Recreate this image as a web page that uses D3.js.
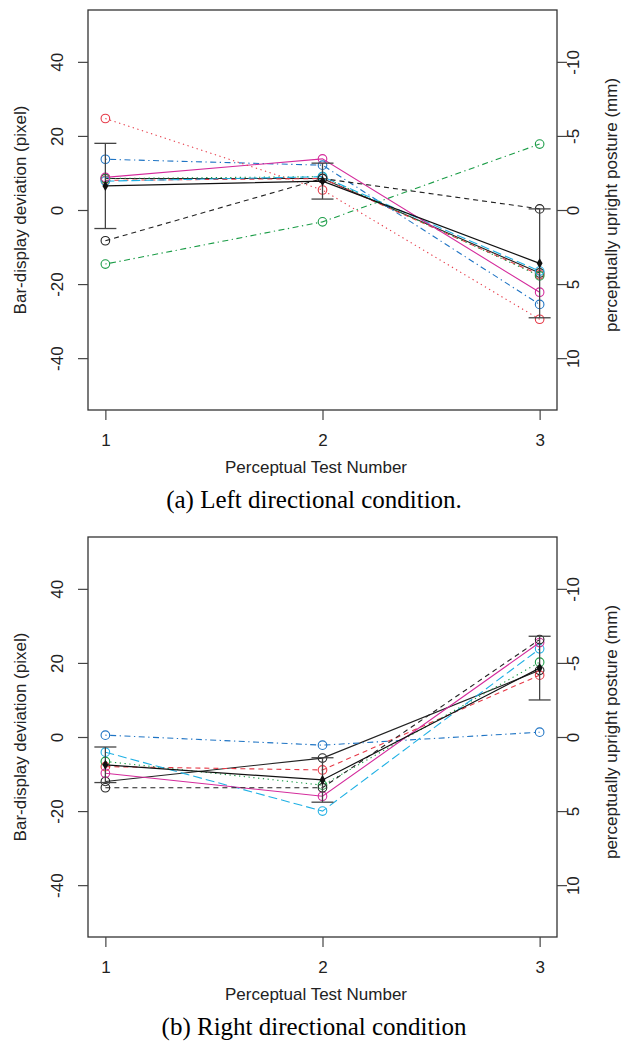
<!DOCTYPE html>
<html lang="en">
  <head>
    <meta charset="utf-8">
    <script src="https://cdn.jsdelivr.net/npm/d3@7"></script>
    <style>
      body { margin: 0; background: #fff; }
      svg text { font-family: "Liberation Sans", Arial, sans-serif; fill: #222; }
      svg text.caption { font-family: "Liberation Serif", "Times New Roman", serif; fill: #000; }
    </style>
  </head>
  <body>
    <svg id="chart" width="629" height="1044"></svg>
    <script>

      // test numbers on the x axis
      var tests = [1, 2, 3];
      var leftTicks = [-40, -20, 0, 20, 40];
      var rightTicks = [-10, -5, 0, 5, 10];

      // one style per subject line (R matplot-like cycle)
      var subjectColors = ["#222222", "#e63a48", "#1a9c46", "#1f74c4", "#1fb0e4", "#d42b9c", "#222222", "#e63a48", "#1a9c46"];
      var subjectDash = ["", "5,4", "1.3,3.5", "1.3,3.5,6,3.5", "9,4", "", "5,4", "1.3,3.5", "1.3,3.5,6,3.5"];

      // (a) left directional condition, bar-display deviation in pixels
      var leftSubjects = [
        [8.5, 8.5, -17.0],
        [8.0, 8.5, -17.5],
        [8.5, 9.0, -17.8],
        [13.7, 12.1, -25.5],
        [7.8, 9.0, -16.5],
        [8.8, 13.8, -22.2],
        [-8.3, 8.5, 0.3],
        [24.7, 5.4, -29.5],
        [-14.6, -3.2, 17.8]
      ];
      var leftMean = [6.5, 7.8, -14.4];
      var leftSd = [11.5, 4.85, 14.7];

      // (b) right directional condition
      var rightSubjects = [
        [-12.0, -5.7, 18.0],
        [-8.0, -8.9, 16.7],
        [-6.6, -13.0, 20.2],
        [0.5, -2.2, 1.3],
        [-4.1, -20.0, 23.8],
        [-9.8, -16.0, 25.5],
        [-13.7, -13.7, 26.3]
      ];
      var rightMean = [-7.5, -11.6, 18.6];
      var rightSd = [4.8, 6.0, 8.6];

      var svg = d3.select("#chart");

      panel(10, leftSubjects, leftMean, leftSd, "(a) Left directional condition.");
      panel(537, rightSubjects, rightMean, rightSd, "(b) Right directional condition");

      function panel(top, subjects, mean, sd, caption) {
        var left = 88, right = 557, bottom = top + 400;
        var x = d3.scaleLinear().domain([0.92, 3.08]).range([left, right]),
            y = d3.scaleLinear().domain([-54, 54]).range([bottom, top]),
            y2 = d3.scaleLinear().domain([13.5, -13.5]).range([bottom, top]);

        var g = svg.append("g");

        var line = d3.line()
          .x(function(d, i) { return x(tests[i]); })
          .y(function(d) { return y(d); });

        // subject lines
        subjects.forEach(function(s, k) {
          g.append("path")
            .datum(s)
              .attr("d", line)
              .attr("fill", "none")
              .attr("stroke", subjectColors[k])
              .attr("stroke-width", 1.1)
              .attr("stroke-dasharray", subjectDash[k]);
        });
        subjects.forEach(function(s, k) {
          g.selectAll(null)
            .data(s)
            .enter().append("circle")
              .attr("cx", function(d, i) { return x(tests[i]); })
              .attr("cy", function(d) { return y(d); })
              .attr("r", 4.3)
              .attr("fill", "none")
              .attr("stroke", subjectColors[k])
              .attr("stroke-width", 1.1);
        });

        // mean with +/- sd bars
        var bars = g.selectAll("g.err")
          .data(mean)
          .enter().append("g")
            .attr("class", "err")
            .attr("stroke", "#444")
            .attr("stroke-width", 1.3);
        bars.append("line")
          .attr("x1", function(d, i) { return x(tests[i]); })
          .attr("x2", function(d, i) { return x(tests[i]); })
          .attr("y1", function(d, i) { return y(d + sd[i]); })
          .attr("y2", function(d, i) { return y(d - sd[i]); });
        [1, -1].forEach(function(sign) {
          bars.append("line")
            .attr("x1", function(d, i) { return x(tests[i]) - 11; })
            .attr("x2", function(d, i) { return x(tests[i]) + 11; })
            .attr("y1", function(d, i) { return y(d + sign * sd[i]); })
            .attr("y2", function(d, i) { return y(d + sign * sd[i]); });
        });

        g.append("path")
          .datum(mean)
            .attr("d", line)
            .attr("fill", "none")
            .attr("stroke", "#111")
            .attr("stroke-width", 1.2);
        g.selectAll(null)
          .data(mean)
          .enter().append("path")
            .attr("transform", function(d, i) { return "translate(" + x(tests[i]) + "," + y(d) + ")"; })
            .attr("d", d3.symbol(d3.symbolDiamond, 30))
            .attr("fill", "#111");

        // frame
        g.append("rect")
          .attr("x", left).attr("y", top)
          .attr("width", right - left).attr("height", bottom - top)
          .attr("fill", "none")
          .attr("stroke", "#333")
          .attr("stroke-width", 1.3);

        // axes (plain hyphen minus, like R)
        var fmt = function(d) { return String(d); };
        var ax = g.append("g")
          .attr("transform", "translate(0," + bottom + ")")
          .call(d3.axisBottom(x).tickValues(tests).tickFormat(fmt).tickSize(10).tickPadding(14));
        var ay = g.append("g")
          .attr("transform", "translate(" + left + ",0)")
          .call(d3.axisLeft(y).tickValues(leftTicks).tickFormat(fmt).tickSize(10).tickPadding(0));
        var ay2 = g.append("g")
          .attr("transform", "translate(" + right + ",0)")
          .call(d3.axisRight(y2).tickValues(rightTicks).tickFormat(fmt).tickSize(10).tickPadding(0));

        [ax, ay, ay2].forEach(function(a) {
          a.select(".domain").remove();
          a.selectAll(".tick line").attr("stroke", "#444").attr("stroke-width", 1.2);
          a.selectAll(".tick text").attr("font-size", 17).attr("fill", "#222");
        });
        ay.selectAll(".tick text")
          .attr("x", 0).attr("dy", 0)
          .attr("text-anchor", "middle")
          .attr("transform", "translate(-25,0) rotate(-90)");
        ay2.selectAll(".tick text")
          .attr("x", 0).attr("dy", 0)
          .attr("text-anchor", "middle")
          .attr("transform", "translate(22,0) rotate(-90)");

        g.append("text")
          .attr("transform", "translate(26," + (top + 200) + ") rotate(-90)")
          .attr("text-anchor", "middle")
          .attr("font-size", 17)
          .text("Bar-display deviation (pixel)");
        g.append("text")
          .attr("transform", "translate(617," + (top + 195) + ") rotate(-90)")
          .attr("text-anchor", "middle")
          .attr("font-size", 17)
          .text("perceptually upright posture (mm)");
        g.append("text")
          .attr("x", 316).attr("y", bottom + 63)
          .attr("text-anchor", "middle")
          .attr("font-size", 17)
          .text("Perceptual Test Number");
        g.append("text")
          .attr("class", "caption")
          .attr("x", 314).attr("y", bottom + 98)
          .attr("text-anchor", "middle")
          .attr("font-size", 25)
          .text(caption);
      }

    </script>
  </body>
</html>
